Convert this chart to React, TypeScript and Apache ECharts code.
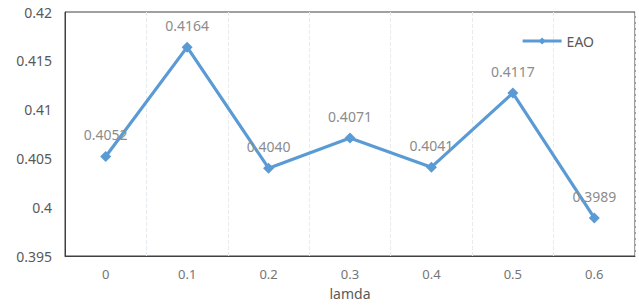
import React, { useEffect, useRef } from "react";
import * as echarts from "echarts";

const categories = ["0", "0.1", "0.2", "0.3", "0.4", "0.5", "0.6"];
const eaoValues = [0.4052, 0.4164, 0.404, 0.4071, 0.4041, 0.4117, 0.3989];
const valueLabels = ["0.4052", "0.4164", "0.4040", "0.4071", "0.4041", "0.4117", "0.3989"];

export default function App() {
  const ref = useRef<HTMLDivElement>(null);
  useEffect(() => {
    const chart = echarts.init(ref.current!, null, { renderer: "svg" });
    const font = "'Noto Sans', 'DejaVu Sans', sans-serif";
    chart.setOption({
      animation: false,
      textStyle: { fontFamily: font },
      grid: {
        left: 65,
        right: 4,
        top: 12,
        bottom: 46,
        show: true,
        borderColor: "#404040",
        borderWidth: 1,
        backgroundColor: "transparent",
      },
      legend: {
        right: 40,
        top: 29,
        itemWidth: 39,
        itemHeight: 9,
        itemGap: 3,
        lineStyle: { width: 3 },
        textStyle: { color: "#595959", fontSize: 14, fontFamily: font },
        data: ["EAO"],
      },
      xAxis: {
        type: "category",
        data: categories,
        boundaryGap: true,
        name: "lamda",
        nameLocation: "middle",
        nameGap: 30,
        nameTextStyle: { color: "#595959", fontSize: 14, fontFamily: font },
        axisLine: { show: true, lineStyle: { color: "#404040", width: 1 } },
        axisTick: { show: false },
        axisLabel: { color: "#757575", fontSize: 13, margin: 11, fontFamily: font },
        splitLine: { show: true, interval: 0, lineStyle: { color: "#e6ebf0", type: "dashed", width: 1 } },
      },
      yAxis: {
        type: "value",
        min: 0.395,
        max: 0.42,
        interval: 0.005,
        axisLine: { show: true, lineStyle: { color: "#404040", width: 1 } },
        axisTick: { show: false },
        splitLine: { show: false },
        axisLabel: {
          color: "#595959",
          fontSize: 14,
          margin: 13,
          fontFamily: font,
          formatter: (v: number) => String(parseFloat(v.toFixed(3))),
        },
      },
      series: [
        {
          name: "EAO",
          type: "line",
          data: eaoValues,
          symbol: "diamond",
          symbolSize: 11,
          lineStyle: { color: "#5B9BD5", width: 3.2 },
          itemStyle: { color: "#5B9BD5" },
          label: {
            show: true,
            position: "top",
            distance: 9,
            color: "#8c8c8c",
            fontSize: 14,
            fontFamily: font,
            formatter: (p: any) => valueLabels[p.dataIndex],
          },
        },
      ],
    });
    return () => chart.dispose();
  }, []);
  return <div ref={ref} style={{ width: 639, height: 305, position: "absolute", left: 0, top: 0 }} />;
}
